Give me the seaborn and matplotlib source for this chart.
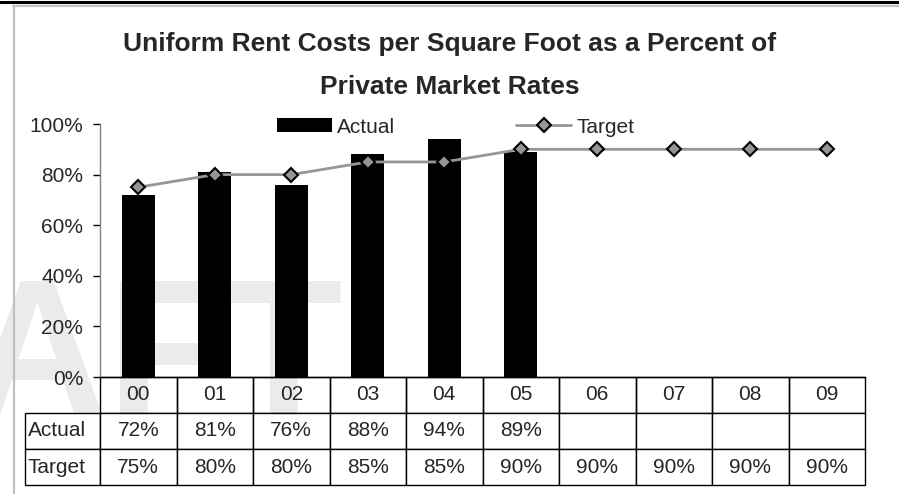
import numpy as np
import pandas as pd
import seaborn as sns
import matplotlib.pyplot as plt
from matplotlib.lines import Line2D
from matplotlib.ticker import PercentFormatter

# chart data (percent of private market rate)
years = ["00", "01", "02", "03", "04", "05", "06", "07", "08", "09"]
actual_years = ["00", "01", "02", "03", "04", "05"]
actual = [72, 81, 76, 88, 94, 89]
target = [75, 80, 80, 85, 85, 90, 90, 90, 90, 90]
y_ticks = [0, 20, 40, 60, 80, 100]
title = "Uniform Rent Costs per Square Foot as a Percent of\nPrivate Market Rates"

W, H = 899, 494
FS = 15

sns.set_style("white")
plt.rcParams["font.family"] = ["Liberation Sans", "DejaVu Sans"]

fig = plt.figure(figsize=(W / 100, H / 100), dpi=100)
fig.patch.set_facecolor("white")

# page decoration: black rule on top, grey chart frame
fig.add_artist(Line2D([0, 1], [1 - 2.5 / H, 1 - 2.5 / H], color="black", lw=2.2))
fig.add_artist(Line2D([13 / W, 1], [1 - 6.5 / H] * 2, color="#c0c0c0", lw=1.6))
fig.add_artist(Line2D([13.5 / W] * 2, [0, 1 - 6.5 / H], color="#c0c0c0", lw=1.6))

# watermark, only "AFT" is in view
fig.text(343 / W, 1 - 413 / H, "DRAFT", ha="right", va="baseline",
         fontsize=139, weight="bold", color="#ebebeb", zorder=-1)

fig.text(0.5, 1 - 32 / H, title, ha="center", va="top", fontsize=19,
         weight="bold", linespacing=2.0)

ax = fig.add_axes([100 / W, 1 - 377 / H, 765 / W, 253 / H])
ax.set_facecolor("none")

sns.barplot(x=actual_years, y=actual, order=years, color="black", saturation=1,
            width=0.43, linewidth=0, label="Actual", ax=ax)
sns.pointplot(x=years, y=target, order=years, color="#969696", markers="D",
              markersize=7, markeredgecolor="black", markeredgewidth=1.5,
              linewidth=2, label="Target", ax=ax)

ax.set_ylim(0, 100)
ax.set_xlim(-0.5, len(years) - 0.5)
ax.set_yticks(y_ticks)
ax.yaxis.set_major_formatter(PercentFormatter(100, decimals=0))
ax.tick_params(axis="y", length=5, width=1, color="black", pad=7, labelsize=FS, left=True)
ax.tick_params(axis="x", length=0, labelbottom=False)
ax.set_xlabel("")
ax.set_ylabel("")
sns.despine(ax=ax)
ax.spines["left"].set_color("#808080")
ax.spines["left"].set_linewidth(1)
ax.spines["bottom"].set_color("black")
ax.spines["bottom"].set_linewidth(1)

handles, labels = ax.get_legend_handles_labels()
order = [labels.index("Actual"), labels.index("Target")]
ax.legend([handles[i] for i in order], [labels[i] for i in order],
          ncol=2, frameon=False, loc="center", bbox_to_anchor=(0.465, 0.988),
          fontsize=FS, handlelength=2.65, handleheight=0.62, columnspacing=5.8,
          handletextpad=0.25)

# data table under the axis
cell_text = [[""] + years,
             ["Actual"] + [f"{v}%" for v in actual] + [""] * (len(years) - len(actual)),
             ["Target"] + [f"{v}%" for v in target]]
label_w = 75 / 765
col_w = 1.0 / len(years)
tbl = ax.table(cellText=cell_text, cellLoc="center",
               colWidths=[label_w] + [col_w] * len(years),
               bbox=[-label_w, -108 / 253, 1 + label_w, 108 / 253])
tbl.auto_set_font_size(False)
tbl.set_fontsize(FS)
for (r, c), cell in tbl.get_celld().items():
    cell.set_edgecolor("black")
    cell.set_linewidth(1)
    if r == 0:
        cell.set_facecolor("none")
        if c == 0:
            cell.visible_edges = ""
    if c == 0 and r > 0:
        cell.PAD = 0.04
        cell._loc = "left"
        cell.get_text().set_ha("left")

fig.savefig("out.png", dpi=100)
